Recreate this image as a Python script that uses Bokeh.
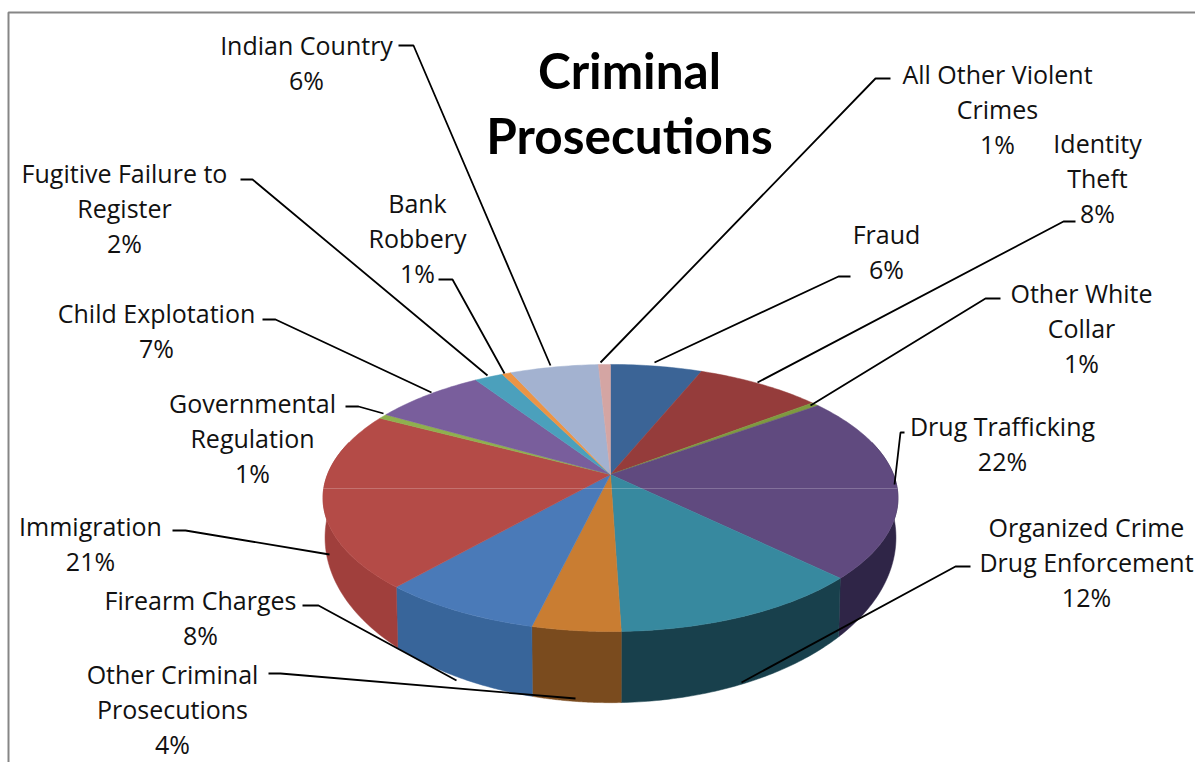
import numpy as np
from bokeh.plotting import figure
from bokeh.core.properties import value
from bokeh.embed import file_html
from bokeh.resources import INLINE

# Share of prosecutions per offence, clockwise from twelve o'clock
categories = [
    ["Fraud"], ["Identity", "Theft"], ["Other White", "Collar"], ["Drug Trafficking"],
    ["Organized Crime", "Drug Enforcement"], ["Other Criminal", "Prosecutions"],
    ["Firearm Charges"], ["Immigration"], ["Governmental", "Regulation"],
    ["Child Explotation"], ["Fugitive Failure to", "Register"], ["Bank", "Robbery"],
    ["Indian Country"], ["All Other Violent", "Crimes"],
]
shares = [6.1, 8.4, 0.5, 22.4, 12.1, 4.2, 7.7, 21.4, 0.6, 7.4, 1.9, 0.6, 5.9, 0.8]

top_colors = ["#3B6496", "#953C3B", "#7E9A3F", "#604A7F", "#37899F", "#C97D32", "#4A7AB8",
              "#B44B47", "#8FB04E", "#795E9C", "#4BA0BC", "#EC9445", "#A3B2D0", "#D4A5A3"]
side_colors = ["#2C4A70", "#6F2D2C", "#5E732F", "#2F2547", "#18404C", "#7A4B1E", "#38659A",
               "#A03F3C", "#6B843A", "#5A4675", "#387A8D", "#B06F33", "#7A859C", "#9F7B7A"]

# Label placement: centre x and first-line y for each category
label_x = [886, 1097, 1081, 1002, 1086, 172, 200, 90, 252, 156, 124, 417, 306, 997]
label_y = [233, 142, 292, 425, 526, 673, 599, 525, 402, 312, 172, 202, 44, 73]
line_step = 35

leaders = [
    [(850, 276), (838, 276), (654, 362)],
    [(1075, 221), (1063, 221), (757, 382)],
    [(1000, 298), (985, 298), (810, 405)],
    [(904, 432), (900, 432), (894, 484)],
    [(970, 566), (955, 566), (741, 682)],
    [(268, 673), (280, 673), (575, 698)],
    [(302, 605), (318, 605), (456, 680)],
    [(172, 530), (185, 530), (329, 554)],
    [(345, 406), (358, 406), (383, 413)],
    [(262, 319), (275, 319), (431, 392)],
    [(240, 179), (252, 179), (487, 375)],
    [(438, 279), (452, 279), (504, 373)],
    [(398, 45), (413, 45), (550, 365)],
    [(890, 78), (875, 78), (600, 362)],
]

# Perspective model of the tilted disc
CX, CY_TOP, CY_BOTTOM = 610, 474, 508
RX_TOP, RX_BOTTOM = 283, 281
RY_TOP, RY_BOTTOM = 129.4, 160
K = 0.176


def top_rim(theta):
    u, v = np.sin(theta), np.cos(theta)
    return CX + RX_TOP * u / (1 + K * v), CY_TOP - RY_TOP * v / (1 + K * v)


def bottom_rim(theta):
    u, v = np.sin(theta), np.cos(theta)
    return CX + RX_BOTTOM * u / (1 + K * v), CY_BOTTOM - RY_BOTTOM * v / (1 + K * v)


p = figure(width=1195, height=762, x_range=(0, 1195), y_range=(762, 0),
           output_backend="svg", toolbar_location=None, min_border=0,
           background_fill_color="white", border_fill_color="white", outline_line_color=None)
p.axis.visible = False
p.grid.visible = False

# Chart frame, open towards the right and bottom of the page
p.line([8, 8, 1195], [762, 12, 12], line_color="#868686", line_width=2)

edges = np.concatenate([[0], np.cumsum(shares)]) / sum(shares) * 2 * np.pi

# Visible outer wall of the disc
for a, b, col in zip(edges[:-1], edges[1:], side_colors):
    lo, hi = max(a, np.radians(75)), min(b, np.radians(285))
    if lo >= hi:
        continue
    th = np.linspace(lo, hi, 60)
    tx, ty = top_rim(th)
    bx, by = bottom_rim(th)
    p.patch(np.concatenate([tx, bx[::-1]]), np.concatenate([ty, by[::-1]]),
            fill_color=col, line_color=col, line_width=0.5)

# Top face wedges
for a, b, col in zip(edges[:-1], edges[1:], top_colors):
    th = np.linspace(a, b, max(8, int((b - a) * 60)))
    tx, ty = top_rim(th)
    p.patch(np.concatenate([[CX], tx]), np.concatenate([[CY_TOP], ty]),
            fill_color=col, line_color=col, line_width=0.5)

# Faint highlight seam across the disc
seam_y = 488
p.line([322, 897], [seam_y, seam_y], line_color="white", line_alpha=0.22, line_width=1)

# Leader lines
for pts in leaders:
    xs, ys = zip(*pts)
    p.line(list(xs), list(ys), line_color="black", line_width=1.8)

# Category labels with their rounded share on the last line
for lines, share, x, y in zip(categories, shares, label_x, label_y):
    rows = lines + [f"{int(share + 0.5)}%"]
    p.text([x] * len(rows), [y + i * line_step for i in range(len(rows))], text=rows,
           text_font=value("Open Sans"), text_font_size="25px", text_color="#111111",
           text_align="center", text_baseline="middle")

p.text([629, 629], [69, 134], text=["Criminal", "Prosecutions"], text_font=value("Lato"),
       text_font_style="bold", text_font_size="49.5px", text_color="black",
       text_align="center", text_baseline="middle")

open("out.html", "w").write(file_html(p, INLINE))
